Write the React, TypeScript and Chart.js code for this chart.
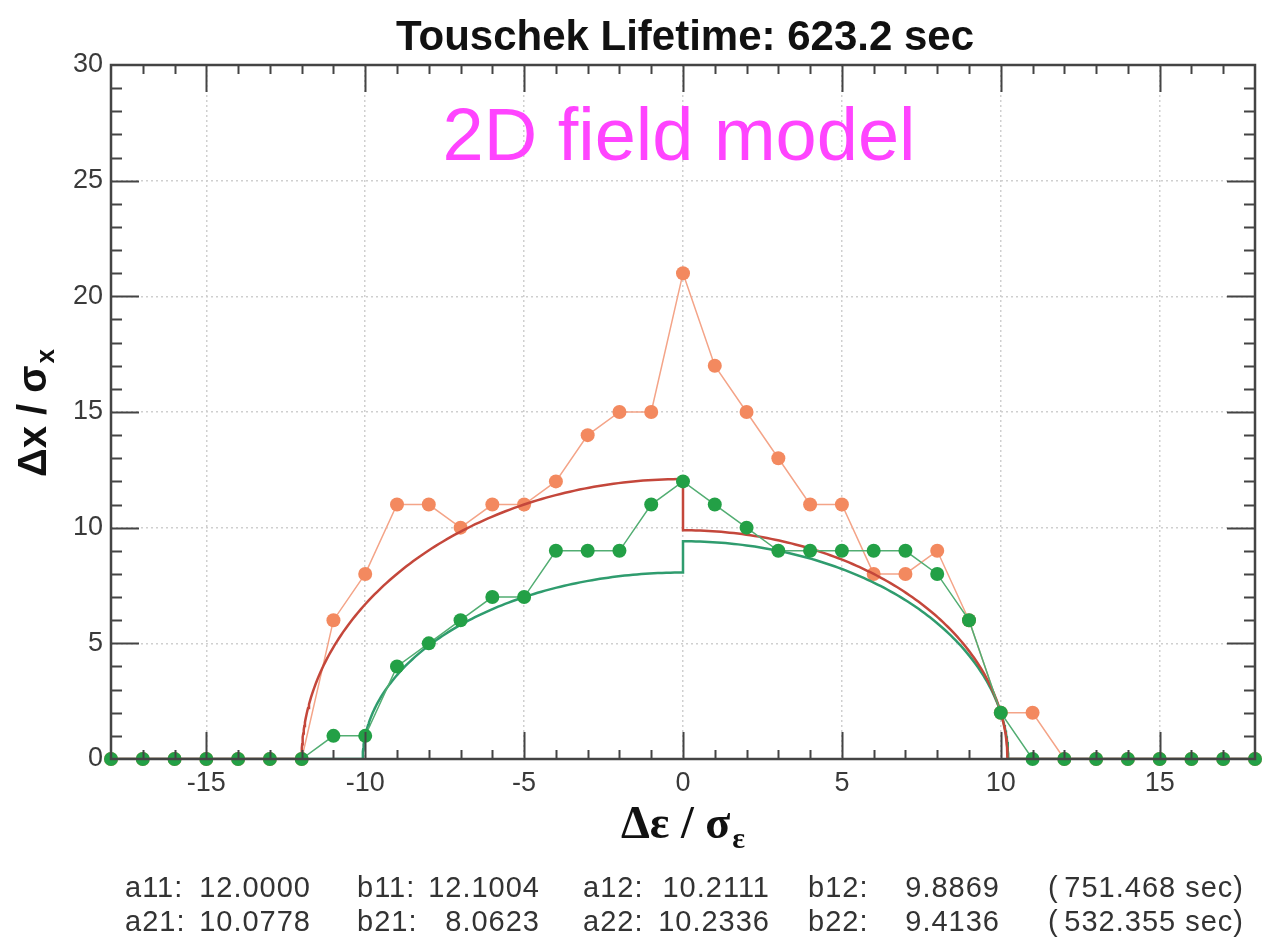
import { useEffect, useRef } from "react";
import { Chart, registerables } from "chart.js";

Chart.register(...registerables);

// Energy offsets (in units of sigma_epsilon) where the aperture was tracked
const energyOffsets = [
  -18, -17, -16, -15, -14, -13, -12, -11, -10, -9, -8, -7, -6, -5, -4, -3, -2, -1,
  0, 1, 2, 3, 4, 5, 6, 7, 8, 9, 10, 11, 12, 13, 14, 15, 16, 17, 18,
];

// Tracked transverse aperture, set 1 (orange) and set 2 (green)
const apertureSet1 = [
  0, 0, 0, 0, 0, 0, 0, 6, 8, 11, 11, 10, 11, 11, 12, 14, 15, 15,
  21, 17, 15, 13, 11, 11, 8, 8, 9, 6, 2, 2, 0, 0, 0, 0, 0, 0, 0,
];
const apertureSet2 = [
  0, 0, 0, 0, 0, 0, 0, 1, 1, 4, 5, 6, 7, 7, 9, 9, 9, 11,
  12, 11, 10, 9, 9, 9, 9, 9, 8, 6, 2, 0, 0, 0, 0, 0, 0, 0, 0,
];

// Half-ellipse fit parameters: [a_left, b_left, a_right, b_right]
const fitNames1 = ["a11", "b11", "a12", "b12"];
const fitValues1 = [12.0, 12.1004, 10.2111, 9.8869];
const fitNames2 = ["a21", "b21", "a22", "b22"];
const fitValues2 = [10.0778, 8.0623, 10.2336, 9.4136];
const fitLifetimes = [751.468, 532.355];
const touschekLifetime = 623.2;

const xTickValues = [-15, -10, -5, 0, 5, 10, 15];
const yTickValues = [0, 5, 10, 15, 20, 25, 30];
const X_MIN = -18;
const X_MAX = 18;
const Y_MIN = 0;
const Y_MAX = 30;

const SANS = '"Liberation Sans", Arial, Helvetica, sans-serif';
const SERIF = '"Liberation Serif", "Times New Roman", serif';

// Two quarter-ellipses joined at zero energy offset, zero outside the aperture
function ellipseCurve(params: number[]) {
  const [aL, bL, aR, bR] = params;
  const pts: { x: number; y: number }[] = [
    { x: X_MIN, y: 0 },
    { x: -aL, y: 0 },
  ];
  const n = 120;
  for (let i = 1; i <= n; i++) {
    const t = (i / n) * (Math.PI / 2);
    pts.push({ x: -aL * Math.cos(t), y: bL * Math.sin(t) });
  }
  for (let i = n; i >= 0; i--) {
    const t = (i / n) * (Math.PI / 2);
    pts.push({ x: aR * Math.cos(t), y: bR * Math.sin(t) });
  }
  pts.push({ x: X_MAX, y: 0 });
  return pts;
}

const framePlugin = {
  id: "frameAndText",
  afterDatasetsDraw(chart: any) {
    const ctx = chart.ctx as CanvasRenderingContext2D;
    const { left, right, top, bottom } = chart.chartArea;
    const xs = chart.scales.x;
    const ys = chart.scales.y;
    ctx.save();
    ctx.strokeStyle = "#444";
    ctx.lineWidth = 2;
    ctx.beginPath();
    for (let v = X_MIN + 1; v < X_MAX; v++) {
      const px = Math.round(xs.getPixelForValue(v)) + 0.5;
      const len = v % 5 === 0 ? 27 : 9;
      ctx.moveTo(px, bottom);
      ctx.lineTo(px, bottom - len);
      ctx.moveTo(px, top);
      ctx.lineTo(px, top + len);
    }
    for (let v = Y_MIN + 1; v < Y_MAX; v++) {
      const py = Math.round(ys.getPixelForValue(v)) + 0.5;
      const len = v % 5 === 0 ? 28 : 11;
      ctx.moveTo(left, py);
      ctx.lineTo(left + len, py);
      ctx.moveTo(right, py);
      ctx.lineTo(right - len, py);
    }
    ctx.stroke();
    ctx.lineWidth = 2.5;
    ctx.strokeRect(left, top, right - left, bottom - top);
    ctx.restore();
  },
  afterDraw(chart: any) {
    const ctx = chart.ctx as CanvasRenderingContext2D;
    ctx.save();
    ctx.textBaseline = "alphabetic";

    // Title
    ctx.fillStyle = "#111";
    ctx.font = `bold 42px ${SANS}`;
    ctx.textAlign = "center";
    ctx.fillText(`Touschek Lifetime: ${touschekLifetime.toFixed(1)} sec`, 685, 50);

    // Model annotation
    ctx.fillStyle = "#ff44ff";
    ctx.font = `74px ${SANS}`;
    ctx.fillText("2D field model", 679, 160);

    // X axis title: Δε / σ_ε
    ctx.fillStyle = "#111";
    ctx.textAlign = "left";
    const xMain = "\u0394\u03b5 / \u03c3";
    ctx.font = `bold 46px ${SERIF}`;
    const wMain = ctx.measureText(xMain).width;
    ctx.font = `bold 30px ${SERIF}`;
    const wSub = ctx.measureText("\u03b5").width;
    const x0 = 683 - (wMain + wSub + 2) / 2;
    ctx.font = `bold 46px ${SERIF}`;
    ctx.fillText(xMain, x0, 838);
    ctx.font = `bold 30px ${SERIF}`;
    ctx.fillText("\u03b5", x0 + wMain + 2, 848);

    // Y axis title: Δx / σ_x
    ctx.save();
    ctx.translate(46, 413);
    ctx.rotate(-Math.PI / 2);
    const yMain = "\u0394x / \u03c3";
    ctx.font = `bold 40px ${SANS}`;
    const wyMain = ctx.measureText(yMain).width;
    ctx.font = `bold 26px ${SANS}`;
    const wySub = ctx.measureText("x").width;
    const y0 = -(wyMain + wySub + 2) / 2;
    ctx.font = `bold 40px ${SANS}`;
    ctx.fillText(yMain, y0, 0);
    ctx.font = `bold 26px ${SANS}`;
    ctx.fillText("x", y0 + wyMain + 2, 8);
    ctx.restore();

    // Fit parameter table
    ctx.fillStyle = "#333";
    ctx.font = `29px ${SANS}`;
    (ctx as any).letterSpacing = "1px";
    const labelX = [125, 357, 583, 808];
    const valueRight = [311, 540, 770, 1000];
    const rows = [
      { names: fitNames1, values: fitValues1, life: fitLifetimes[0], y: 897 },
      { names: fitNames2, values: fitValues2, life: fitLifetimes[1], y: 931 },
    ];
    for (const r of rows) {
      for (let i = 0; i < 4; i++) {
        ctx.textAlign = "left";
        ctx.fillText(`${r.names[i]}:`, labelX[i], r.y);
        ctx.textAlign = "right";
        ctx.fillText(r.values[i].toFixed(4), valueRight[i], r.y);
      }
      ctx.textAlign = "left";
      ctx.fillText("(", 1048, r.y);
      ctx.textAlign = "right";
      ctx.fillText(`${r.life.toFixed(3)} sec)`, 1244, r.y);
    }
    ctx.restore();
  },
};

export default function App() {
  const canvasRef = useRef<HTMLCanvasElement | null>(null);

  useEffect(() => {
    document.body.style.margin = "0";
    const canvas = canvasRef.current;
    if (!canvas) return;

    const set1 = energyOffsets.map((x, i) => ({ x, y: apertureSet1[i] }));
    const set2 = energyOffsets.map((x, i) => ({ x, y: apertureSet2[i] }));

    const chart = new Chart(canvas, {
      type: "line",
      data: {
        datasets: [
          {
            label: "set 2",
            data: set2,
            order: 0,
            borderColor: "#52ad72",
            borderWidth: 1.5,
            pointRadius: 7,
            pointBackgroundColor: "#23a046",
            pointBorderColor: "#23a046",
            pointBorderWidth: 0,
            tension: 0,
            clip: false as any,
          },
          {
            label: "fit 1",
            data: ellipseCurve(fitValues1),
            order: 1,
            borderColor: "#c4473b",
            borderWidth: 2.5,
            pointRadius: 0,
            tension: 0,
          },
          {
            label: "fit 2",
            data: ellipseCurve(fitValues2),
            order: 2,
            borderColor: "#2f9c6e",
            borderWidth: 2.5,
            pointRadius: 0,
            tension: 0,
          },
          {
            label: "set 1",
            data: set1,
            order: 3,
            borderColor: "#f4a488",
            borderWidth: 1.5,
            pointRadius: 7,
            pointBackgroundColor: "#f3895f",
            pointBorderColor: "#f3895f",
            pointBorderWidth: 0,
            tension: 0,
            clip: false as any,
          },
        ],
      },
      options: {
        animation: false,
        responsive: false,
        maintainAspectRatio: false,
        layout: { padding: { top: 65, right: 3, left: 0, bottom: 0 } },
        plugins: {
          legend: { display: false },
          tooltip: { enabled: false },
          title: { display: false },
        },
        scales: {
          x: {
            type: "linear",
            min: X_MIN,
            max: X_MAX,
            afterBuildTicks: (scale: any) => {
              scale.ticks = xTickValues.map((value) => ({ value }));
            },
            afterFit: (scale: any) => {
              scale.height = 179;
            },
            grid: { color: "#cfcfcf", lineWidth: 1.5, drawTicks: false },
            border: { display: false, dash: [2, 3] },
            ticks: {
              padding: 8,
              color: "#3a3a3a",
              font: { family: SANS, size: 27 },
              maxRotation: 0,
            },
          },
          y: {
            type: "linear",
            min: Y_MIN,
            max: Y_MAX,
            afterBuildTicks: (scale: any) => {
              scale.ticks = yTickValues.map((value) => ({ value }));
            },
            afterFit: (scale: any) => {
              scale.width = 111;
            },
            grid: { color: "#cfcfcf", lineWidth: 1.5, drawTicks: false },
            border: { display: false, dash: [2, 3] },
            ticks: {
              padding: 8,
              color: "#3a3a3a",
              font: { family: SANS, size: 27 },
            },
          },
        },
      },
      plugins: [framePlugin],
    });

    return () => chart.destroy();
  }, []);

  return (
    <canvas
      ref={canvasRef}
      width={1262}
      height={938}
      style={{ display: "block", width: 1262, height: 938 }}
    />
  );
}
